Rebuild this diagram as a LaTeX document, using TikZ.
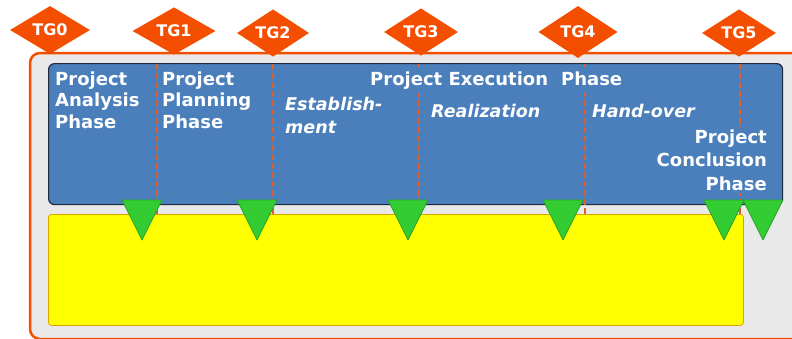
\documentclass[tikz,border=0pt]{standalone}
\usepackage{fontspec}
\setmainfont{DejaVu Sans}
\usetikzlibrary{shapes.geometric}
\definecolor{tgorange}{HTML}{F44E00}
\definecolor{framegray}{HTML}{E9E9E9}
\definecolor{phaseblue}{HTML}{4A7FBB}
\definecolor{bluedark}{HTML}{1E2A3C}
\definecolor{dashred}{HTML}{DE5F2C}
\definecolor{boxyellow}{HTML}{FFFF00}
\definecolor{yellowedge}{HTML}{D9A300}
\definecolor{markgreen}{HTML}{33CC33}
\definecolor{greenedge}{HTML}{27A527}
\tikzset{
  frame/.style={draw=tgorange, line width=2.5pt, fill=framegray, rounded corners=10pt},
  phasebox/.style={draw=bluedark, line width=1.2pt, fill=phaseblue, rounded corners=6pt, inner sep=0pt, anchor=north west},
  workbox/.style={draw=yellowedge, line width=0.8pt, fill=boxyellow, rounded corners=3pt, inner sep=0pt, anchor=north west},
  divider/.style={draw=dashred, line width=1.4pt, dash pattern=on 6pt off 3pt},
  gate/.style={diamond, fill=tgorange, inner sep=0pt, text=white, font=\bfseries\fontsize{16}{16}\selectfont},
  label/.style={text=white, inner sep=0pt, align=left, font=\bfseries\fontsize{18}{21.5}\selectfont},
  sublabel/.style={text=white, inner sep=0pt, font=\bfseries\itshape\fontsize{17.5}{23}\selectfont},
  marker/.style={fill=markgreen, draw=greenedge, line width=0.8pt, line join=round},
}
\begin{document}
\begin{tikzpicture}[x=1pt,y=-1pt]
\useasboundingbox (0,0) rectangle (792,338);
\begin{scope}
\clip (0,0) rectangle (792,338);
\draw[frame] (30,53) rectangle (815,339);
\end{scope}
\node[phasebox, minimum width=734pt, minimum height=141pt] (exec) at (48,63) {};
\node[workbox, minimum width=695pt, minimum height=111pt] (work) at (48,214) {};
\foreach \x in {157,273,419,585,740}
  \draw[divider] (\x,64) -- (\x,214);
% texts
\node[label, anchor=north west] (analysis) at (55,71.5) {Project\\Analysis\\Phase};
\node[label, anchor=north west] (planning) at (162,71.5) {Project\\Planning\\Phase};
\node[label, fill=phaseblue, inner xsep=2pt, inner ysep=4pt, anchor=base west] (execution) at (368,85) {Project Execution\hspace{13pt}Phase};
\node[sublabel, align=left, anchor=north west] (establish) at (285,96.5) {Establish-\\ment};
\node[sublabel, anchor=base west] (realization) at (431,117) {Realization};
\node[sublabel, anchor=base west] (handover) at (592,117) {Hand-over};
\node[label, align=right, fill=phaseblue, inner xsep=2pt, inner ysep=2pt, anchor=north east, font=\bfseries\fontsize{18}{23.5}\selectfont] (conclusion) at (769,127.5) {Project\\Conclusion\\Phase};
% milestone markers
\foreach \x in {142,257,408,563,724,763}
  \draw[marker] (\x-20,200) -- (\x+20,200) -- (\x,240) -- cycle;
% gates
\node[gate, minimum width=80pt, minimum height=48pt] (tg0) at (50,30) {TG0};
\node[gate, minimum width=83pt, minimum height=46pt] (tg1) at (174,31) {TG1};
\node[gate, minimum width=72pt, minimum height=42pt] (tg2) at (273,33) {TG2};
\node[gate, minimum width=74pt, minimum height=44pt] (tg3) at (421,32) {TG3};
\node[gate, minimum width=79pt, minimum height=52pt] (tg4) at (578,32) {TG4};
\node[gate, minimum width=74pt, minimum height=44pt] (tg5) at (739,33) {TG5};
\end{tikzpicture}
\end{document}
